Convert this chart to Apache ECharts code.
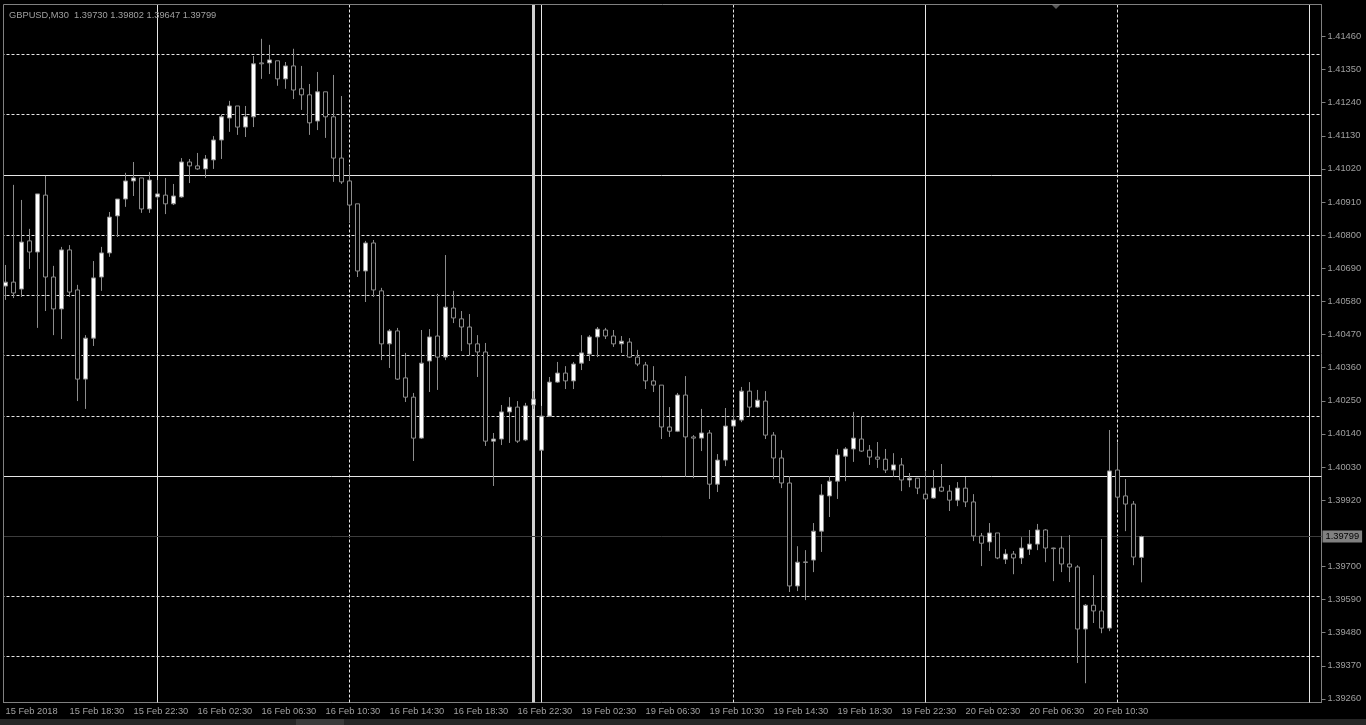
<!DOCTYPE html>
<html><head><meta charset="utf-8">
<script src="https://cdn.jsdelivr.net/npm/echarts@6/dist/echarts.min.js"></script>
<style>html,body{margin:0;padding:0;background:#000;}#c{width:1366px;height:725px;}</style>
</head><body><div id="c"></div>
<script>
const symbol = 'GBPUSD';
const period = 'M30';

const opens = [1.40631,1.40644,1.40621,1.40781,1.40744,1.40933,1.40661,1.40555,1.40751,1.40618,
1.40322,1.40458,1.40661,1.40741,1.40864,1.40920,1.40980,1.40990,1.40887,1.40927,
1.40933,1.40904,1.40927,1.41043,1.41030,1.41020,1.41050,1.41116,1.41189,1.41229,
1.41159,1.41193,1.41372,1.41372,1.41379,1.41319,1.41362,1.41286,1.41266,1.41179,
1.41276,1.41193,1.41056,1.40980,1.40904,1.40681,1.40774,1.40615,1.40439,1.40482,
1.40326,1.40262,1.40126,1.40382,1.40465,1.40395,1.40558,1.40522,1.40495,1.40439,
1.40412,1.40116,1.40123,1.40213,1.40229,1.40120,1.40236,1.40086,1.40199,1.40312,
1.40342,1.40316,1.40375,1.40405,1.40462,1.40485,1.40465,1.40439,1.40445,1.40395,
1.40369,1.40316,1.40302,1.40163,1.40149,1.40269,1.40130,1.40126,1.40143,1.39973,
1.40053,1.40166,1.40186,1.40282,1.40229,1.40249,1.40136,1.40060,1.39977,1.39635,
1.39715,1.39721,1.39817,1.39934,1.39983,1.40066,1.40090,1.40123,1.40086,1.40063,
1.40056,1.40020,1.40037,1.39987,1.39993,1.39940,1.39927,1.39963,1.39950,1.39920,
1.39960,1.39914,1.39801,1.39781,1.39811,1.39724,1.39741,1.39728,1.39757,1.39774,
1.39821,1.39761,1.39761,1.39708,1.39698,1.39492,1.39571,1.39552,1.39495,1.40020,
1.39934,1.39907,1.39730];

const highs = [1.40701,1.40967,1.40917,1.40821,1.40937,1.40997,1.40698,1.40761,1.40767,1.40635,
1.40468,1.40714,1.40761,1.40877,1.40920,1.41007,1.41043,1.40990,1.41010,1.40983,
1.40990,1.40970,1.41056,1.41053,1.41073,1.41066,1.41129,1.41199,1.41246,1.41229,
1.41229,1.41395,1.41452,1.41432,1.41379,1.41375,1.41419,1.41362,1.41302,1.41342,
1.41276,1.41332,1.41262,1.41030,1.40904,1.40781,1.40784,1.40625,1.40488,1.40492,
1.40409,1.40276,1.40485,1.40488,1.40605,1.40734,1.40615,1.40548,1.40538,1.40468,
1.40442,1.40143,1.40236,1.40262,1.40249,1.40243,1.40282,1.40233,1.40329,1.40379,
1.40365,1.40379,1.40468,1.40468,1.40495,1.40492,1.40485,1.40465,1.40458,1.40419,
1.40379,1.40365,1.40302,1.40229,1.40276,1.40332,1.40136,1.40223,1.40153,1.40073,
1.40226,1.40223,1.40296,1.40312,1.40286,1.40282,1.40146,1.40086,1.40000,1.39767,
1.39754,1.39844,1.39973,1.40000,1.40090,1.40096,1.40213,1.40199,1.40103,1.40113,
1.40090,1.40076,1.40060,1.40010,1.39993,1.40017,1.40020,1.40040,1.39970,1.39980,
1.39997,1.39940,1.39811,1.39844,1.39811,1.39757,1.39751,1.39797,1.39821,1.39841,
1.39824,1.39762,1.39801,1.39804,1.39704,1.39575,1.39671,1.39791,1.40153,1.40110,
1.39990,1.39917,1.39802];

const lows = [1.40585,1.40591,1.40595,1.40688,1.40492,1.40548,1.40468,1.40455,1.40595,1.40249,
1.40223,1.40432,1.40615,1.40728,1.40794,1.40894,1.40930,1.40874,1.40874,1.40917,
1.40870,1.40900,1.40924,1.40973,1.41017,1.40990,1.41020,1.41053,1.41143,1.41133,
1.41126,1.41159,1.41319,1.41335,1.41296,1.41286,1.41252,1.41216,1.41133,1.41149,
1.41123,1.40977,1.40970,1.40840,1.40661,1.40578,1.40595,1.40385,1.40359,1.40319,
1.40246,1.40050,1.40123,1.40279,1.40286,1.40385,1.40508,1.40415,1.40402,1.40329,
1.40100,1.39967,1.40103,1.40110,1.40110,1.40116,1.40223,1.40083,1.40196,1.40309,
1.40289,1.40289,1.40352,1.40382,1.40395,1.40455,1.40429,1.40409,1.40392,1.40365,
1.40289,1.40279,1.40123,1.40130,1.40146,1.39997,1.39993,1.40083,1.39924,1.39947,
1.40033,1.40153,1.40179,1.40199,1.40226,1.40123,1.39990,1.39960,1.39615,1.39618,
1.39588,1.39681,1.39748,1.39864,1.39924,1.39983,1.40047,1.40080,1.40037,1.40027,
1.40010,1.39997,1.39950,1.39963,1.39940,1.39920,1.39924,1.39947,1.39884,1.39900,
1.39897,1.39784,1.39701,1.39751,1.39724,1.39708,1.39674,1.39708,1.39738,1.39754,
1.39714,1.39651,1.39681,1.39648,1.39379,1.39312,1.39512,1.39478,1.39485,1.39887,
1.39817,1.39704,1.39647];

const closes = [1.40644,1.40608,1.40777,1.40744,1.40937,1.40661,1.40555,1.40751,1.40611,1.40322,
1.40458,1.40658,1.40741,1.40860,1.40920,1.40980,1.40990,1.40887,1.40983,1.40937,
1.40904,1.40930,1.41043,1.41030,1.41020,1.41053,1.41116,1.41193,1.41229,1.41159,
1.41193,1.41369,1.41369,1.41382,1.41319,1.41362,1.41282,1.41266,1.41173,1.41276,
1.41193,1.41056,1.40977,1.40900,1.40681,1.40774,1.40618,1.40439,1.40482,1.40322,
1.40262,1.40126,1.40375,1.40462,1.40395,1.40561,1.40525,1.40495,1.40439,1.40412,
1.40116,1.40123,1.40213,1.40229,1.40116,1.40233,1.40256,1.40199,1.40312,1.40342,
1.40316,1.40372,1.40409,1.40462,1.40488,1.40465,1.40439,1.40448,1.40395,1.40372,
1.40316,1.40302,1.40163,1.40149,1.40269,1.40130,1.40126,1.40143,1.39973,1.40053,
1.40166,1.40186,1.40282,1.40229,1.40252,1.40136,1.40060,1.39977,1.39635,1.39714,
1.39713,1.39817,1.39937,1.39983,1.40070,1.40090,1.40126,1.40083,1.40063,1.40056,
1.40020,1.40037,1.39987,1.39993,1.39960,1.39924,1.39960,1.39950,1.39920,1.39960,
1.39914,1.39801,1.39777,1.39811,1.39728,1.39741,1.39728,1.39761,1.39774,1.39821,
1.39761,1.39759,1.39708,1.39698,1.39492,1.39571,1.39552,1.39495,1.40017,1.39930,
1.39907,1.39731,1.39799];

// time axis tick labels (one every 8 bars = 4 hours)
const tickLabels = ['15 Feb 2018','15 Feb 18:30','15 Feb 22:30','16 Feb 02:30','16 Feb 06:30',
'16 Feb 10:30','16 Feb 14:30','16 Feb 18:30','16 Feb 22:30','19 Feb 02:30','19 Feb 06:30',
'19 Feb 10:30','19 Feb 14:30','19 Feb 18:30','19 Feb 22:30','20 Feb 02:30','20 Feb 06:30','20 Feb 10:30'];
const barsPerTick = 8;
const visibleSlots = 165;

// price scale tick labels
const priceTicks = [1.39260,1.39370,1.39480,1.39590,1.39700,1.39920,1.40030,1.40140,1.40250,
1.40360,1.40470,1.40580,1.40690,1.40800,1.40910,1.41020,1.41130,1.41240,1.41350,1.41460];
const priceMin = 1.39248, priceMax = 1.41566;

// grid / levels
const gridLevels = [1.414,1.412,1.408,1.406,1.404,1.402,1.396,1.394];
const levelLines = [1.410,1.400];
const dayStartBars = [19,67,115,163];
const middayBars = [43,91,139];
const weekendBars = [66];

const last = opens.length - 1;
const f5 = v => v.toFixed(5);
const slots = Array.from({length: visibleSlots}, (_, i) => String(i));
const candles = opens.map((o, i) => [o, closes[i], lows[i], highs[i]]);

const txt = {color:'#a0a0a0', fontSize:9.3, fontFamily:'Liberation Sans'};
const showTick = i => i % barsPerTick === 0 && i <= last;

const ml = [];
gridLevels.forEach(v => ml.push({yAxis:v, lineStyle:{type:[3,2], color:'#e6e6e6', width:1}}));
levelLines.forEach(v => ml.push({yAxis:v, lineStyle:{type:'solid', color:'#e6e6e6', width:1}}));
middayBars.forEach(b => ml.push({xAxis:b, lineStyle:{type:[3,2], color:'#e6e6e6', width:1}}));
dayStartBars.forEach(b => ml.push({xAxis:b, lineStyle:{type:'solid', color:'#e6e6e6', width:1}}));
weekendBars.forEach(b => ml.push({xAxis:b, lineStyle:{type:'solid', color:'#d0d0d0', width:3}}));
ml.push({yAxis:closes[last], lineStyle:{type:'solid', color:'#3c3c3c', width:1},
  label:{show:true, position:'end', distance:1, formatter: () => f5(closes[last]),
    backgroundColor:'#808080', color:'#000', padding:[2,3,1,3], fontSize:9.3, fontFamily:'Liberation Sans'}});

const chart = echarts.init(document.getElementById('c'), null, {renderer:'canvas'});
chart.setOption({
  backgroundColor:'#000',
  animation:false,
  title:{text:`${symbol},${period}  ${f5(opens[last])} ${f5(highs[last])} ${f5(lows[last])} ${f5(closes[last])}`,
    left:4, top:6, textStyle:Object.assign({fontWeight:'normal'}, txt)},
  grid:{left:1.5, right:44.5, top:4.5, bottom:22.5, containLabel:false},
  xAxis:{type:'category', data:slots, boundaryGap:true,
    axisLine:{onZero:false, lineStyle:{color:'#808080'}},
    axisTick:{alignWithLabel:true, length:3, interval:(i)=>showTick(i), lineStyle:{color:'#808080'}},
    axisLabel:Object.assign({interval:(i)=>showTick(i), formatter:(v,i)=>tickLabels[i/barsPerTick] || '',
      align:'left', margin:4}, txt),
    splitLine:{show:false}},
  yAxis:{type:'value', position:'right', min:priceMin, max:priceMax,
    axisLine:{show:true, onZero:false, lineStyle:{color:'#808080'}},
    axisTick:{show:true, length:4, customValues:priceTicks, lineStyle:{color:'#808080'}},
    axisLabel:Object.assign({customValues:priceTicks, formatter:v=>f5(v), margin:6}, txt),
    splitLine:{show:false}},
  series:[{
    type:'candlestick', data:candles, z:3, barWidth:4,
    itemStyle:{color:'#ffffff', color0:'#000000', borderColor:'#8c8c8c', borderColor0:'#8c8c8c', borderWidth:1},
    markLine:{silent:true, z:1, precision:5, symbol:['none','none'], animation:false, label:{show:false}, data:ml}
  }],
  graphic:[
    {type:'rect', z:100, shape:{x:0, y:0, width:3, height:725}, style:{fill:'#000'}},
    {type:'line', z:101, shape:{x1:3.5, y1:4.5, x2:3.5, y2:702.5}, style:{stroke:'#808080', lineWidth:1}},
    {type:'line', z:101, shape:{x1:3.5, y1:4.5, x2:1321.5, y2:4.5}, style:{stroke:'#808080', lineWidth:1}},
    {type:'polygon', z:101, shape:{points:[[1052,5],[1060,5],[1056,9]]}, style:{fill:'#5a5a5a'}},
    {type:'rect', z:100, shape:{x:0, y:719, width:1366, height:6}, style:{fill:'#262626'}},
    {type:'rect', z:101, shape:{x:296, y:719, width:48, height:6}, style:{fill:'#3a3a3a'}}
  ]
});
</script></body></html>
